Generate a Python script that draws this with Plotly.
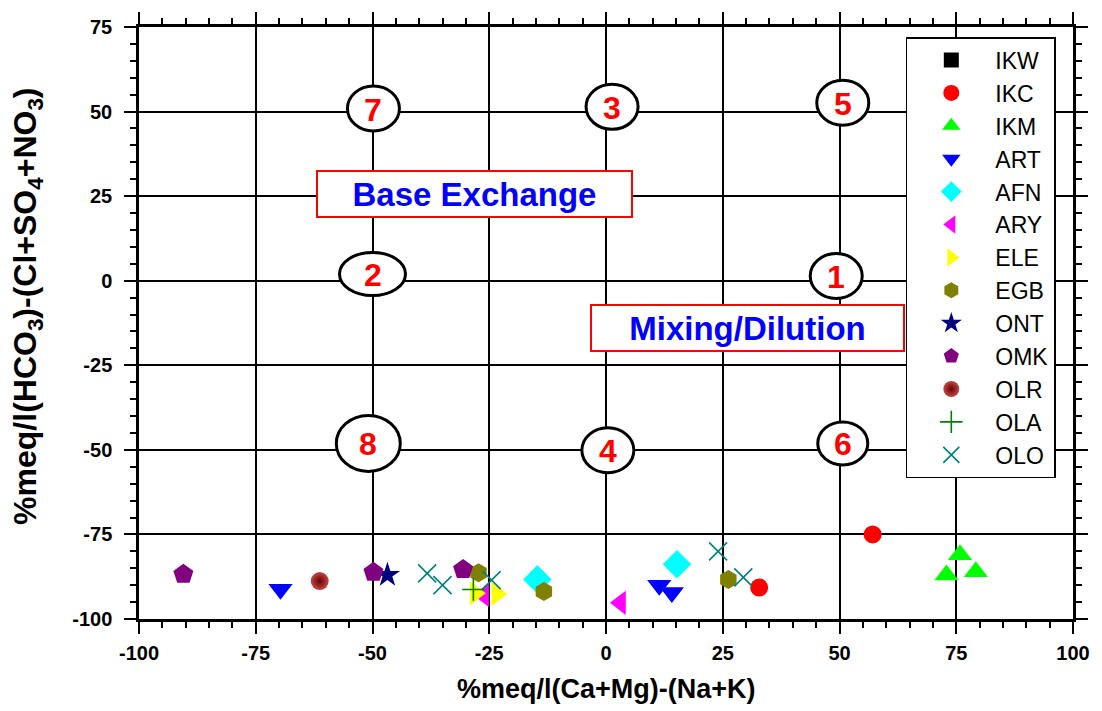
import plotly.graph_objects as go

# ---- data ----
series_names = ["IKW", "IKC", "IKM", "ART", "AFN", "ARY", "ELE", "EGB", "ONT", "OMK", "OLR", "OLA", "OLO"]

ikw_x = [None]
ikw_y = [None]
ikc_x = [57.1, 32.8]
ikc_y = [-75.0, -90.7]
ikm_x = [75.8, 72.9, 79.2]
ikm_y = [-81.0, -87.0, -86.0]
art_x = [-69.7, 11.4, 14.1]
art_y = [-91.2, -90.0, -92.2]
afn_x = [-14.7, 15.2]
afn_y = [-88.3, -83.8]
ary_x = [-26.2, 3.1]
ary_y = [-92.9, -95.2]
ele_x = [-28.0, -23.4]
ele_y = [-92.4, -92.6]
egb_x = [-27.3, -13.3, 26.2]
egb_y = [-86.3, -91.9, -88.3]
ont_x = [-46.8]
ont_y = [-87.0]
omk_x = [-90.5, -49.8, -30.6]
omk_y = [-86.8, -86.2, -85.4]
olr_x = [-61.3]
olr_y = [-88.8]
ola_x = [-28.4]
ola_y = [-91.3]
olo_x = [-38.3, -35.0, -24.5, 24.0, 29.4]
olo_y = [-86.5, -90.0, -88.5, -80.0, -87.7]

# zone labels (numbers in ellipses)
zone_labels = ["7", "3", "5", "2", "1", "8", "4", "6"]
zone_x = [-49.8, 1.3, 50.7, -50.0, 49.3, -50.9, 0.4, 50.7]
zone_y = [50.9, 51.4, 52.6, 2.0, 1.4, -48.1, -50.1, -48.1]
zone_w = [52, 52, 52, 66, 52, 64, 52, 50]
zone_h = [45, 45, 45, 43, 45, 56, 45, 43]

box_labels = ["Base Exchange", "Mixing/Dilution"]
box_x = [-28.1, 30.4]
box_y = [25.5, -14.1]
box_w = [313, 311]
box_h = [44, 44]

x_ticks = [-100, -75, -50, -25, 0, 25, 50, 75, 100]
y_ticks = [-100, -75, -50, -25, 0, 25, 50, 75]

x_title = "%meq/l(Ca+Mg)-(Na+K)"
y_title = "%meq/l(HCO<sub>3</sub>)-(Cl+SO<sub>4</sub>+NO<sub>3</sub>)"

# ---- styles ----
styles = {
    "IKW": dict(symbol="square", color="#000000", size=15),
    "IKC": dict(symbol="circle", color="#FF0000", size=18),
    "IKM": dict(symbol="triangle-up", color="#00FF00", size=21),
    "ART": dict(symbol="triangle-down", color="#0000FF", size=21),
    "AFN": dict(symbol="diamond", color="#00FFFF", size=22),
    "ARY": dict(symbol="triangle-left", color="#FF00FF", size=21),
    "ELE": dict(symbol="triangle-right", color="#FFFF00", size=21),
    "EGB": dict(symbol="hexagon", color="#808000", size=19),
    "ONT": dict(symbol="star", color="#000080", size=19),
    "OMK": dict(symbol="pentagon", color="#800080", size=21),
    "OLR": dict(symbol="circle", color="#8B0000", size=18),
    "OLA": dict(symbol="cross-thin", color="#008000", size=16),
    "OLO": dict(symbol="x-thin", color="#008080", size=18),
}
data = {
    "IKW": (ikw_x, ikw_y), "IKC": (ikc_x, ikc_y), "IKM": (ikm_x, ikm_y),
    "ART": (art_x, art_y), "AFN": (afn_x, afn_y), "ARY": (ary_x, ary_y),
    "ELE": (ele_x, ele_y), "EGB": (egb_x, egb_y), "ONT": (ont_x, ont_y),
    "OMK": (omk_x, omk_y), "OLR": (olr_x, olr_y), "OLA": (ola_x, ola_y),
    "OLO": (olo_x, olo_y),
}

FONT = "Liberation Sans, Arial"

fig = go.Figure()
for name in series_names:
    st = styles[name]
    xs, ys = data[name]
    marker = dict(symbol=st["symbol"], size=st["size"], color=st["color"], line=dict(width=0))
    if st["symbol"].endswith("-thin"):
        marker["line"] = dict(width=1.6, color=st["color"])
    if name == "OLR":
        marker["color"] = "#C04848"
        marker["gradient"] = dict(type="radial", color="#6A0000")
    fig.add_trace(go.Scatter(x=xs, y=ys, mode="markers", name=name, marker=marker,
                             showlegend=True))

shapes = []
annotations = []
for lab, cx, cy, w, h in zip(zone_labels, zone_x, zone_y, zone_w, zone_h):
    shapes.append(dict(type="circle", xref="x", yref="y", xsizemode="pixel", ysizemode="pixel",
                       xanchor=cx, yanchor=cy, x0=-w / 2, x1=w / 2, y0=-h / 2, y1=h / 2,
                       line=dict(color="black", width=3), fillcolor="white", layer="above"))
    annotations.append(dict(x=cx, y=cy, xref="x", yref="y", text="<b>%s</b>" % lab, showarrow=False,
                            font=dict(family=FONT, size=32, color="#FF0000"),
                            yshift=-1))
for lab, cx, cy, w, h in zip(box_labels, box_x, box_y, box_w, box_h):
    annotations.append(dict(x=cx, y=cy, xref="x", yref="y", text="<b>%s</b>" % lab, showarrow=False,
                            font=dict(family=FONT, size=33, color="#0000FF"),
                            bgcolor="white", bordercolor="#FF0000", borderwidth=2, borderpad=0,
                            width=w, height=h, align="center", valign="middle"))

# axis titles as annotations (placed like the reference)
annotations.append(dict(x=0.5, y=-0.118, xref="paper", yref="paper", xanchor="center", yanchor="middle",
                        text="<b>%s</b>" % x_title, showarrow=False,
                        font=dict(family=FONT, size=27, color="black")))
annotations.append(dict(x=-0.1194, y=0.528, xref="paper", yref="paper", xanchor="center", yanchor="middle",
                        text="<b>%s</b>" % y_title, showarrow=False, textangle=-90,
                        font=dict(family=FONT, size=32, color="black")))

axis_common = dict(
    showline=True, linecolor="black", linewidth=2.5, mirror="ticks",
    showgrid=True, gridcolor="black", gridwidth=2,
    zeroline=False,
    ticks="outside", ticklen=12, tickwidth=2, tickcolor="black",
    tickfont=dict(family=FONT, size=20, color="black"),
    minor=dict(dtick=5, ticks="outside", ticklen=6, tickwidth=1.5, tickcolor="black", showgrid=False),
)

fig.update_layout(
    width=1102, height=711,
    margin=dict(l=139, r=25, t=25, b=92),
    paper_bgcolor="white", plot_bgcolor="white",
    xaxis=dict(range=[-100, 100], tickvals=x_ticks, ticktext=["<b>%d</b>" % v for v in x_ticks],
               ticklabelstandoff=2, **axis_common),
    yaxis=dict(range=[-100, 75], tickvals=y_ticks, ticktext=["<b>%d</b>" % v for v in y_ticks],
               ticklabelstandoff=8, **axis_common),
    legend=dict(x=0.821, y=0.983, xanchor="left", yanchor="top",
                bgcolor="white", bordercolor="black", borderwidth=1.5,
                font=dict(family=FONT, size=23, color="black"),
                itemwidth=78, tracegroupgap=0),
    shapes=shapes, annotations=annotations,
    showlegend=True,
)

fig.write_html("out.html")
